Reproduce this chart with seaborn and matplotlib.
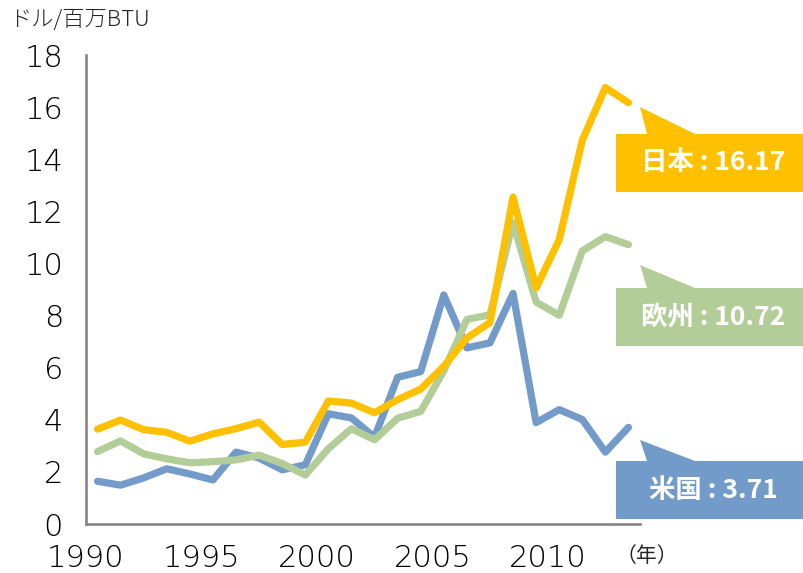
import numpy as np
import pandas as pd
import seaborn as sns
import matplotlib.pyplot as plt
from matplotlib.patches import Polygon

# LNG / gas prices, USD per million BTU
years = list(range(1990, 2014))
japan = [3.64, 3.99, 3.62, 3.52, 3.18, 3.46, 3.66, 3.91, 3.05, 3.14, 4.72, 4.64,
         4.27, 4.77, 5.18, 6.05, 7.14, 7.73, 12.55, 9.06, 10.91, 14.73, 16.75, 16.17]
europe = [2.78, 3.19, 2.69, 2.50, 2.35, 2.39, 2.46, 2.64, 2.32, 1.88, 2.89, 3.66,
          3.23, 4.06, 4.32, 5.88, 7.85, 8.03, 11.56, 8.52, 8.01, 10.48, 11.03, 10.72]
usa = [1.64, 1.49, 1.77, 2.12, 1.92, 1.69, 2.76, 2.53, 2.08, 2.27, 4.23, 4.07,
       3.33, 5.63, 5.85, 8.79, 6.76, 6.95, 8.85, 3.89, 4.39, 4.01, 2.76, 3.71]
regions = ['米国', '欧州', '日本']
colors = {'日本': '#FFC000', '欧州': '#B3CD98', '米国': '#729BC9'}
xticks = [1990, 1995, 2000, 2005, 2010]

df = pd.DataFrame({
    'year': years * 3,
    'price': usa + europe + japan,
    'region': ['米国'] * 24 + ['欧州'] * 24 + ['日本'] * 24,
})
df['x'] = df['year'] + 0.5  # Excel-style category centres

sns.set_style('white')
plt.rcParams['font.family'] = ['Noto Sans CJK JP', 'DejaVu Sans']

fig = plt.figure(figsize=(8.04, 5.73), dpi=100)
ax = fig.add_axes([86 / 804, 1 - 524 / 573, (640 - 86) / 804, (524 - 55) / 573])

sns.lineplot(data=df, x='x', y='price', hue='region', hue_order=regions,
             palette=colors, linewidth=5.2, legend=False, ax=ax,
             solid_capstyle='round', solid_joinstyle='round')

ax.set_xlim(1990, 2014)
ax.set_ylim(0, 18)
ax.set_xticks(xticks)
ax.set_xticklabels([str(y) for y in xticks])
ax.set_yticks(range(0, 19, 2))
ax.set_xlabel('')
ax.set_ylabel('')
for s in ['top', 'right']:
    ax.spines[s].set_visible(False)
for s in ['left', 'bottom']:
    ax.spines[s].set_color('#868686')
    ax.spines[s].set_linewidth(1.9)
ax.tick_params(axis='both', direction='out', length=6.5, width=1.9,
               color='#868686', labelcolor='black')
ax.tick_params(axis='y', pad=10)
ax.tick_params(axis='x', pad=8)
for lab in ax.get_xticklabels() + ax.get_yticklabels():
    lab.set_fontfamily(['DejaVu Sans'])
    lab.set_fontweight('light')
    lab.set_fontsize(22)

fig.text(9 / 804, 1 - 20 / 573, 'ドル/百万BTU', fontsize=16, va='center', ha='left',
         fontweight='light')
fig.text(647 / 804, 1 - 556 / 573, '（年）', fontsize=15, va='center', ha='center')

# callout boxes (pixel coords in figure space)
def px(x, y):
    return (x / 804, 1 - y / 573)

callouts = [('日本', japan[-1], 107, 134, 192),
            ('欧州', europe[-1], 265, 288, 346),
            ('米国', usa[-1], 440, 461, 519)]
for name, val, tip_y, top, bot in callouts:
    pts = [px(616, top), px(647, top), px(640, tip_y), px(695, top),
           px(804, top), px(804, bot), px(616, bot)]
    fig.patches.append(Polygon(pts, closed=True, transform=fig.transFigure,
                               facecolor=colors[name], edgecolor='none'))
    fig.text(713 / 804, 1 - ((top + bot) / 2) / 573, f'{name} : {val:.2f}',
             fontsize=19, fontweight='bold', color='white', ha='center', va='center')

fig.savefig('out.png', dpi=100, facecolor='white')
